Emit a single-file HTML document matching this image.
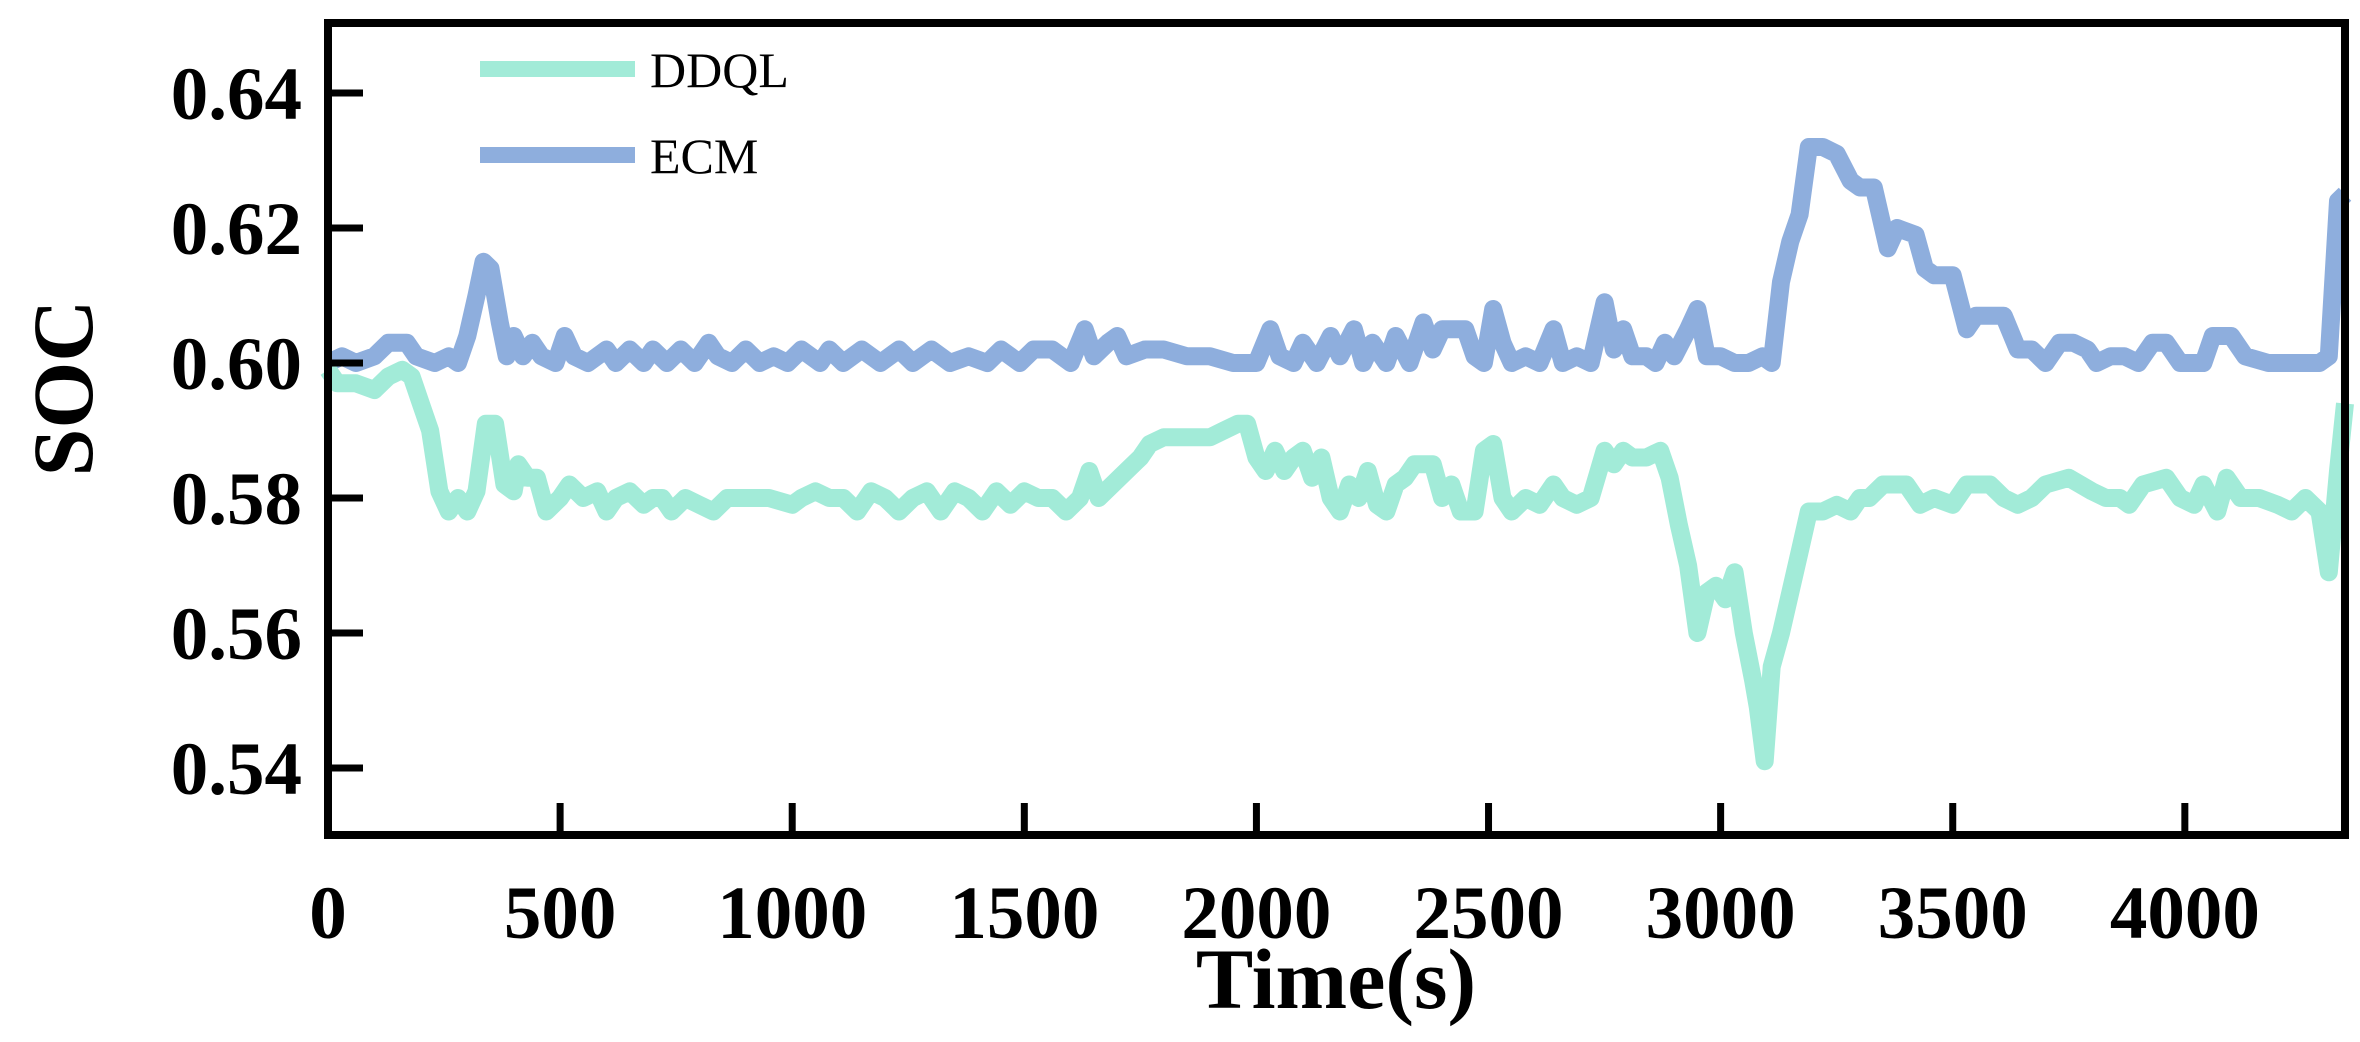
<!DOCTYPE html>
<html><head><meta charset="utf-8"><style>
html,body{margin:0;padding:0;background:#fff;}
svg{display:block;}
text{font-family:"Liberation Serif",serif;}
</style></head>
<body>
<svg id="chart" width="2360" height="1042" viewBox="0 0 2360 1042" xmlns="http://www.w3.org/2000/svg">
<g id="plot"></g>
</svg>
<script>
const xTicks=[0,500,1000,1500,2000,2500,3000,3500,4000];
const yTicks=[0.54,0.56,0.58,0.60,0.62,0.64];
const yTickLabels=["0.54","0.56","0.58","0.60","0.62","0.64"];
const ecmTime=[0,30,60,100,130,170,190,230,260,280,300,320,335,350,370,385,400,420,440,460,490,510,530,560,600,620,650,680,700,730,760,790,820,840,870,900,930,960,990,1020,1060,1080,1110,1150,1190,1230,1260,1300,1340,1380,1420,1450,1490,1520,1560,1600,1630,1650,1680,1700,1720,1760,1800,1850,1900,1950,2000,2030,2050,2080,2100,2130,2160,2180,2210,2230,2250,2280,2300,2330,2360,2380,2400,2450,2470,2490,2510,2530,2550,2580,2610,2640,2660,2690,2720,2750,2770,2790,2810,2840,2860,2880,2900,2930,2950,2970,3000,3030,3060,3090,3110,3130,3150,3170,3190,3220,3250,3280,3300,3330,3360,3380,3420,3440,3460,3500,3530,3550,3580,3610,3640,3670,3700,3730,3760,3790,3810,3840,3870,3900,3930,3960,3990,4040,4060,4100,4130,4180,4220,4260,4290,4310,4330,4345];
const ecmSoc=[0.600,0.601,0.600,0.601,0.603,0.603,0.601,0.600,0.601,0.600,0.604,0.610,0.615,0.614,0.606,0.601,0.604,0.601,0.603,0.601,0.600,0.604,0.601,0.600,0.602,0.600,0.602,0.600,0.602,0.600,0.602,0.600,0.603,0.601,0.600,0.602,0.600,0.601,0.600,0.602,0.600,0.602,0.600,0.602,0.600,0.602,0.600,0.602,0.600,0.601,0.600,0.602,0.600,0.602,0.602,0.600,0.605,0.601,0.603,0.604,0.601,0.602,0.602,0.601,0.601,0.600,0.600,0.605,0.601,0.600,0.603,0.600,0.604,0.601,0.605,0.600,0.603,0.600,0.604,0.600,0.606,0.602,0.605,0.605,0.601,0.600,0.608,0.603,0.600,0.601,0.600,0.605,0.600,0.601,0.600,0.609,0.602,0.605,0.601,0.601,0.600,0.603,0.601,0.605,0.608,0.601,0.601,0.600,0.600,0.601,0.600,0.612,0.618,0.622,0.632,0.632,0.631,0.627,0.626,0.626,0.617,0.620,0.619,0.614,0.613,0.613,0.605,0.607,0.607,0.607,0.602,0.602,0.600,0.603,0.603,0.602,0.600,0.601,0.601,0.600,0.603,0.603,0.600,0.600,0.604,0.604,0.601,0.600,0.600,0.600,0.600,0.601,0.624,0.625];
const ddqlTime=[0,20,60,100,130,160,180,200,220,240,260,280,300,320,340,360,380,400,410,430,450,470,500,520,550,580,600,620,650,680,700,720,740,770,800,830,860,900,950,1000,1020,1050,1080,1110,1140,1170,1200,1230,1260,1290,1320,1350,1380,1410,1440,1470,1500,1530,1560,1590,1620,1640,1660,1690,1720,1750,1770,1800,1850,1900,1930,1960,1980,2000,2020,2040,2060,2080,2100,2120,2140,2160,2180,2200,2220,2240,2260,2280,2300,2320,2340,2380,2400,2420,2440,2470,2490,2510,2530,2550,2580,2610,2640,2660,2690,2720,2750,2770,2790,2810,2840,2870,2890,2910,2930,2950,2970,2990,3010,3030,3050,3070,3080,3095,3110,3130,3150,3170,3190,3220,3250,3280,3300,3320,3350,3400,3430,3460,3500,3530,3580,3610,3640,3670,3700,3750,3800,3830,3860,3880,3910,3960,3990,4020,4040,4070,4090,4120,4160,4200,4230,4260,4290,4310,4330,4345];
const ddqlSoc=[0.599,0.597,0.597,0.596,0.598,0.599,0.598,0.594,0.590,0.581,0.578,0.580,0.578,0.581,0.591,0.591,0.582,0.581,0.585,0.583,0.583,0.578,0.580,0.582,0.580,0.581,0.578,0.580,0.581,0.579,0.580,0.580,0.578,0.580,0.579,0.578,0.580,0.580,0.580,0.579,0.580,0.581,0.580,0.580,0.578,0.581,0.580,0.578,0.580,0.581,0.578,0.581,0.580,0.578,0.581,0.579,0.581,0.580,0.580,0.578,0.580,0.584,0.580,0.582,0.584,0.586,0.588,0.589,0.589,0.589,0.590,0.591,0.591,0.586,0.584,0.587,0.584,0.586,0.587,0.583,0.586,0.580,0.578,0.582,0.580,0.584,0.579,0.578,0.582,0.583,0.585,0.585,0.580,0.582,0.578,0.578,0.587,0.588,0.580,0.578,0.580,0.579,0.582,0.580,0.579,0.580,0.587,0.585,0.587,0.586,0.586,0.587,0.583,0.576,0.570,0.560,0.566,0.567,0.565,0.569,0.560,0.553,0.549,0.541,0.555,0.560,0.566,0.572,0.578,0.578,0.579,0.578,0.580,0.580,0.582,0.582,0.579,0.580,0.579,0.582,0.582,0.580,0.579,0.580,0.582,0.583,0.581,0.580,0.580,0.579,0.582,0.583,0.580,0.579,0.582,0.578,0.583,0.580,0.580,0.579,0.578,0.580,0.578,0.569,0.584,0.594];

const L=328,R=2345,T=23,B=835;
const xMin=0,xMax=4345,yRef0=0.64,yRef0px=93,pxPer=135/0.02;
function xs(t){return L+(t-xMin)/(xMax-xMin)*(R-L);}
function ys(v){return yRef0px+(yRef0-v)*pxPer;}
const NS="http://www.w3.org/2000/svg";
const g=document.getElementById('plot');
function mk(tag,attrs,parent){const e=document.createElementNS(NS,tag);for(const k in attrs)e.setAttribute(k,attrs[k]);(parent||g).appendChild(e);return e;}

function series(times,vals,color,name){
  let d='';
  for(let i=0;i<times.length;i++){d+=(i?'L':'M')+xs(times[i]).toFixed(1)+' '+ys(vals[i]).toFixed(1);}
  const p=mk('path',{d:d,fill:'none',stroke:color,'stroke-width':18,'stroke-linejoin':'round','stroke-linecap':'butt'});
  
  
}
series(ecmTime,ecmSoc,'#8eaedd','ecm-line');
series(ddqlTime,ddqlSoc,'#a2ebd8','ddql-line');

const frame=mk('rect',{x:L,y:T,width:R-L,height:B-T,fill:'none',stroke:'#000','stroke-width':8});



yTicks.forEach((v,i)=>{
  const y=ys(v);
  const tk=mk('line',{x1:L,x2:L+35,y1:y,y2:y,stroke:'#000','stroke-width':7});
  
  
  const tx=mk('text',{x:302,y:y+26,'text-anchor':'end','font-size':75,'font-weight':'bold',fill:'#000'});
  tx.textContent=yTickLabels[i];
  
  
});
xTicks.forEach(t=>{
  const x=xs(t);
  if(t>0){
    const tk=mk('line',{x1:x,x2:x,y1:B,y2:B-32,stroke:'#000','stroke-width':7});
    
    
  }
  const tx=mk('text',{x:x,y:938,'text-anchor':'middle','font-size':75,'font-weight':'bold',fill:'#000'});
  tx.textContent=String(t);
  
  
});

const xt=mk('text',{x:1336,y:1008,'text-anchor':'middle','font-size':86,'font-weight':'bold',fill:'#000'});
xt.textContent='Time(s)';


const yt=mk('text',{x:0,y:0,'text-anchor':'middle','font-size':86,'font-weight':'bold',fill:'#000',transform:'translate(92,388) rotate(-90)'});
yt.textContent='SOC';



const legNames=['DDQL','ECM'];
const legColors=['#a2ebd8','#8eaedd'];
legNames.forEach((n,i)=>{
  const y=69+i*86;
  const ln=mk('line',{x1:480,x2:635,y1:y,y2:y,stroke:legColors[i],'stroke-width':16});
  
  
  const tx=mk('text',{x:650,y:y+18,'font-size':50,fill:'#000'});
  tx.textContent=n;
  
  
});
</script>
</body></html>
